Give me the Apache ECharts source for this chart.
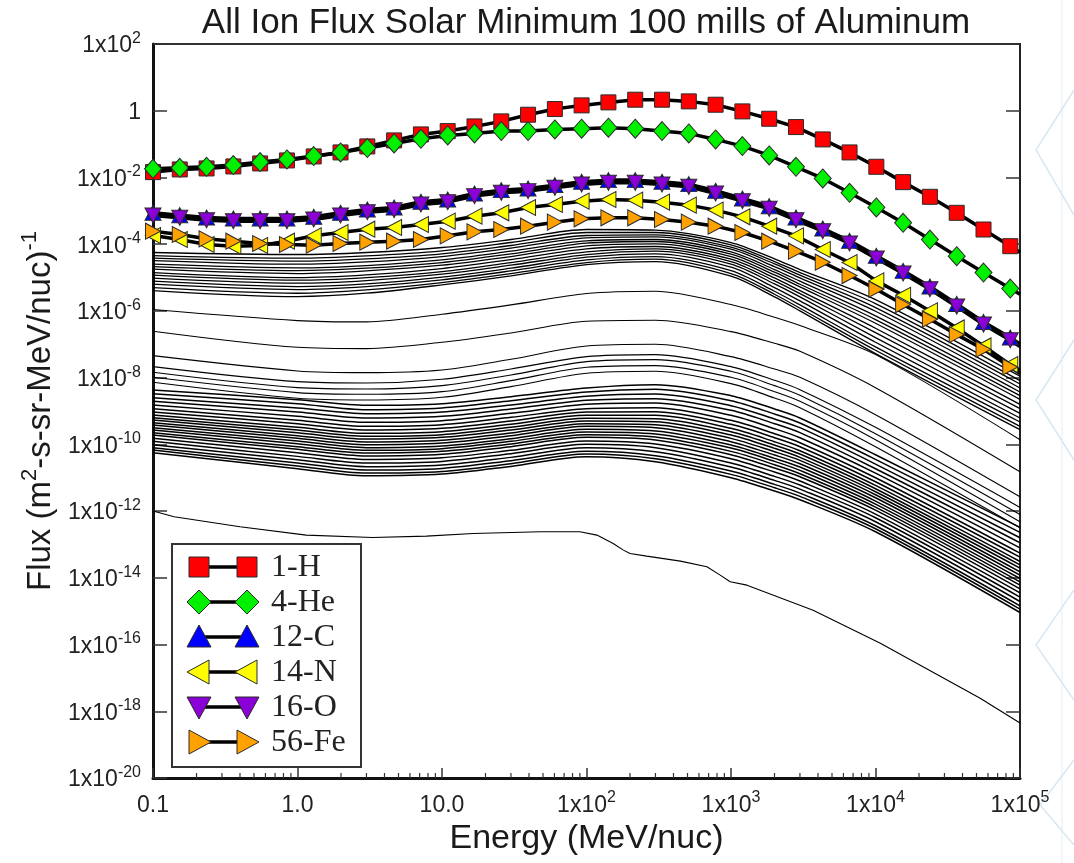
<!DOCTYPE html>
<html>
<head>
<meta charset="utf-8">
<title>All Ion Flux Solar Minimum 100 mills of Aluminum</title>
<script src="https://cdn.jsdelivr.net/npm/echarts@6/dist/echarts.min.js"></script>
<style>
html,body{margin:0;padding:0;background:#fff;}
#chart{width:1074px;height:863px;}
</style>
</head>
<body>
<div id="chart"></div>
<script>
// energy grid (MeV/nuc) of the marked ions, last point = right edge (no marker)
var energies = [0.1, 0.1532, 0.2348, 0.3598, 0.5514, 0.8453, 1.295, 1.985, 3.042, 4.662, 7.145, 10.95, 16.78, 25.72, 39.4, 60.4, 92.5, 141.8, 217.4, 333.2, 510.5, 782.4, 1199, 1838, 2816, 4315, 6613, 10134, 15530, 23800, 36480, 55900, 85660, 100000];

// log10 of flux
var hLog  = [-1.84,-1.76,-1.73,-1.67,-1.58,-1.49,-1.37,-1.25,-1.07,-0.89,-0.71,-0.61,-0.47,-0.32,-0.12,0.05,0.16,0.25,0.33,0.33,0.28,0.18,-0.02,-0.24,-0.49,-0.86,-1.25,-1.68,-2.14,-2.58,-3.06,-3.56,-4.06,-4.24];
var heLog = [-1.74,-1.71,-1.68,-1.63,-1.54,-1.46,-1.36,-1.25,-1.12,-0.98,-0.84,-0.74,-0.68,-0.61,-0.61,-0.56,-0.54,-0.51,-0.54,-0.61,-0.68,-0.86,-1.06,-1.34,-1.68,-2.03,-2.46,-2.9,-3.36,-3.86,-4.36,-4.85,-5.33,-5.5];
var cLog  = [-3.06,-3.13,-3.20,-3.23,-3.23,-3.23,-3.18,-3.06,-2.96,-2.90,-2.73,-2.66,-2.48,-2.38,-2.33,-2.23,-2.13,-2.08,-2.08,-2.13,-2.20,-2.40,-2.63,-2.86,-3.20,-3.53,-3.90,-4.35,-4.80,-5.27,-5.79,-6.33,-6.80,-6.99];
var nLog  = [-3.74,-3.86,-4.01,-4.06,-4.04,-3.91,-3.75,-3.65,-3.55,-3.50,-3.41,-3.31,-3.16,-3.06,-2.90,-2.81,-2.71,-2.66,-2.68,-2.74,-2.83,-2.98,-3.18,-3.46,-3.75,-4.16,-4.55,-5.10,-5.53,-6.00,-6.51,-7.05,-7.61,-7.78];
var oLog  = [-3.14,-3.21,-3.28,-3.31,-3.31,-3.31,-3.26,-3.14,-3.04,-2.98,-2.81,-2.74,-2.56,-2.46,-2.41,-2.31,-2.21,-2.16,-2.16,-2.21,-2.28,-2.48,-2.71,-2.94,-3.28,-3.61,-3.98,-4.43,-4.88,-5.35,-5.87,-6.41,-6.88,-7.07];
var feLog = [-3.61,-3.71,-3.84,-3.91,-3.98,-4.01,-4.03,-3.98,-3.94,-3.91,-3.86,-3.75,-3.63,-3.56,-3.46,-3.34,-3.24,-3.21,-3.21,-3.26,-3.34,-3.46,-3.65,-3.91,-4.21,-4.54,-4.94,-5.35,-5.81,-6.25,-6.71,-7.15,-7.68,-7.88];

// the other (unmarked) ions: log10 flux at a few anchor energies
var otherE = [0.1, 1, 3, 10, 30, 100, 300, 1000, 2000, 3000, 10000, 100000];
var upperIonsLog = [
  [-4.25,-4.31,-4.25,-4.10,-3.86,-3.56,-3.58,-3.95,-4.44,-4.76,-5.66,-7.96],
  [-4.34,-4.42,-4.35,-4.20,-3.95,-3.65,-3.65,-4.02,-4.52,-4.85,-5.78,-8.09],
  [-4.42,-4.51,-4.44,-4.29,-4.04,-3.74,-3.72,-4.09,-4.59,-4.93,-5.90,-8.19],
  [-4.49,-4.60,-4.53,-4.37,-4.12,-3.81,-3.78,-4.15,-4.67,-5.01,-6.01,-8.31],
  [-4.60,-4.71,-4.64,-4.47,-4.21,-3.90,-3.86,-4.23,-4.76,-5.11,-6.15,-8.43],
  [-4.67,-4.79,-4.72,-4.55,-4.29,-3.97,-3.92,-4.30,-4.84,-5.20,-6.26,-8.54],
  [-4.75,-4.88,-4.80,-4.63,-4.37,-4.05,-3.99,-4.37,-4.92,-5.28,-6.37,-8.65],
  [-4.85,-5.00,-4.92,-4.73,-4.46,-4.14,-4.07,-4.45,-5.01,-5.39,-6.52,-8.80],
  [-4.93,-5.08,-5.00,-4.82,-4.55,-4.23,-4.14,-4.52,-5.10,-5.48,-6.65,-8.93],
  [-5.02,-5.17,-5.09,-4.90,-4.63,-4.31,-4.21,-4.60,-5.19,-5.58,-6.80,-9.07],
  [-5.11,-5.27,-5.19,-4.99,-4.72,-4.39,-4.29,-4.69,-5.30,-5.70,-6.94,-9.21],
  [-5.20,-5.36,-5.27,-5.07,-4.80,-4.47,-4.37,-4.79,-5.41,-5.82,-7.08,-9.33],
  [-5.30,-5.47,-5.37,-5.15,-4.88,-4.55,-4.45,-4.88,-5.50,-5.92,-7.18,-9.46],
  [-5.39,-5.57,-5.47,-5.22,-4.95,-4.61,-4.52,-4.96,-5.58,-6.00,-7.28,-9.56]
];
var middleIonsLog = [
  [-5.96,-6.29,-6.33,-6.10,-5.82,-5.48,-5.41,-5.81,-6.19,-6.44,-7.31,-9.86],
  [-6.61,-7.09,-7.13,-6.94,-6.66,-6.31,-6.28,-6.62,-6.97,-7.21,-8.30,-10.82],
  [-7.34,-7.80,-7.85,-7.77,-7.45,-7.05,-7.00,-7.37,-7.74,-7.99,-9.11,-11.57],
  [-7.67,-8.12,-8.16,-8.05,-7.74,-7.37,-7.31,-7.67,-8.08,-8.36,-9.49,-11.89],
  [-7.84,-8.30,-8.34,-8.24,-7.92,-7.52,-7.46,-7.81,-8.24,-8.53,-9.68,-12.10],
  [-7.99,-8.45,-8.50,-8.42,-8.09,-7.69,-7.64,-7.99,-8.42,-8.71,-9.86,-12.32],
  [-8.14,-8.62,-8.67,-8.59,-8.27,-7.87,-7.81,-8.18,-8.61,-8.90,-10.07,-12.50]
];
var lowerIonsLog = [
  [-8.37,-8.66,-8.83,-8.78,-8.57,-8.31,-8.21,-8.54,-8.94,-9.21,-10.31,-12.49],
  [-8.48,-8.78,-8.96,-8.91,-8.69,-8.43,-8.35,-8.69,-9.09,-9.36,-10.45,-12.64],
  [-8.60,-8.91,-9.08,-9.03,-8.82,-8.56,-8.49,-8.84,-9.24,-9.50,-10.59,-12.80],
  [-8.71,-9.03,-9.21,-9.16,-8.94,-8.68,-8.63,-8.98,-9.38,-9.65,-10.73,-12.95],
  [-8.82,-9.16,-9.34,-9.29,-9.07,-8.80,-8.76,-9.13,-9.53,-9.80,-10.86,-13.10],
  [-8.93,-9.28,-9.46,-9.41,-9.19,-8.93,-8.90,-9.28,-9.68,-9.95,-11.00,-13.26],
  [-9.03,-9.38,-9.57,-9.52,-9.30,-9.03,-9.02,-9.40,-9.80,-10.07,-11.12,-13.38],
  [-9.12,-9.49,-9.67,-9.62,-9.40,-9.13,-9.13,-9.52,-9.92,-10.19,-11.23,-13.51],
  [-9.20,-9.57,-9.76,-9.71,-9.49,-9.22,-9.23,-9.62,-10.02,-10.29,-11.33,-13.61],
  [-9.27,-9.65,-9.84,-9.79,-9.57,-9.30,-9.32,-9.72,-10.12,-10.39,-11.42,-13.71],
  [-9.35,-9.74,-9.93,-9.88,-9.66,-9.38,-9.41,-9.82,-10.22,-10.48,-11.51,-13.82],
  [-9.42,-9.82,-10.01,-9.96,-9.74,-9.46,-9.50,-9.92,-10.32,-10.58,-11.60,-13.92],
  [-9.50,-9.90,-10.10,-10.05,-9.83,-9.55,-9.60,-10.02,-10.42,-10.68,-11.70,-14.02],
  [-9.57,-9.98,-10.18,-10.13,-9.91,-9.63,-9.69,-10.11,-10.51,-10.78,-11.79,-14.12],
  [-9.65,-10.07,-10.26,-10.21,-9.99,-9.71,-9.78,-10.21,-10.61,-10.88,-11.88,-14.22],
  [-9.72,-10.15,-10.35,-10.30,-10.07,-9.79,-9.87,-10.31,-10.71,-10.97,-11.97,-14.33],
  [-9.82,-10.25,-10.45,-10.40,-10.18,-9.90,-9.99,-10.43,-10.83,-11.10,-12.09,-14.45],
  [-9.91,-10.36,-10.56,-10.51,-10.28,-10.00,-10.10,-10.56,-10.96,-11.22,-12.20,-14.58],
  [-10.01,-10.46,-10.67,-10.62,-10.39,-10.10,-10.22,-10.68,-11.08,-11.34,-12.32,-14.71],
  [-10.10,-10.56,-10.77,-10.72,-10.49,-10.21,-10.34,-10.80,-11.20,-11.46,-12.44,-14.84],
  [-10.17,-10.65,-10.86,-10.81,-10.58,-10.29,-10.43,-10.90,-11.30,-11.56,-12.53,-14.94],
  [-10.25,-10.73,-10.94,-10.89,-10.66,-10.37,-10.52,-11.00,-11.40,-11.66,-12.62,-15.04]
];

// lowest ion curve, own energy points (it has two small steps)
var lowE   = [0.1, 0.14, 0.4, 1.15, 3.3, 7.8, 16.4, 48, 90, 118, 153, 180, 200, 261, 447, 681, 842, 987, 1290, 3700, 10800, 53000, 100000];
var lowLog = [-12.0,-12.17,-12.47,-12.72,-12.79,-12.75,-12.67,-12.62,-12.62,-12.72,-12.97,-13.17,-13.27,-13.35,-13.50,-13.67,-13.92,-14.12,-14.22,-14.97,-15.96,-17.61,-18.35];

var legendNames = ['1-H', '4-He', '12-C', '14-N', '16-O', '56-Fe'];
var xSmallLabels = ['0.1', '1.0', '10.0'];

var FONT = '"Liberation Sans", Arial, Helvetica, sans-serif';
var SERIF = '"Liberation Serif", "Times New Roman", serif';

function pts(xs, logs) {
  var out = [];
  for (var i = 0; i < logs.length; i++) {
    out.push([xs[i], Math.pow(10, logs[i])]);
  }
  return out;
}

function markedSeries(name, logs, symbol, rotate, size, color) {
  var data = [];
  for (var i = 0; i < logs.length; i++) {
    var item = { value: [energies[i], Math.pow(10, logs[i])] };
    if (i == logs.length - 1) item.symbol = 'none';
    data.push(item);
  }
  return {
    name: name, type: 'line', data: data,
    symbol: symbol, symbolSize: size, symbolRotate: rotate,
    showAllSymbol: true, silent: true, z: 3,
    lineStyle: { color: '#000', width: 3.5 },
    itemStyle: { color: color, borderColor: '#2a2a2a', borderWidth: 1 }
  };
}

function thinLines(list, width) {
  for (var i = 0; i < list.length; i++) {
    series.push({
      type: 'line', data: pts(otherE, list[i]), symbol: 'none', smooth: 0.3,
      silent: true, z: 1, lineStyle: { color: '#000', width: width }
    });
  }
}

function powRich(e) {
  if (e === 0) return '{m|1}';
  return '{m|1x10}{s|' + e + '}';
}

var labelRich = {
  m: { fontSize: 23, fontFamily: FONT, color: '#222', lineHeight: 27, verticalAlign: 'bottom' },
  s: { fontSize: 16, fontFamily: FONT, color: '#222', lineHeight: 16, verticalAlign: 'top' }
};

var series = [];
thinLines(upperIonsLog, 1.3);
thinLines(middleIonsLog, 1.1);
thinLines(lowerIonsLog, 1.5);
series.push({
  type: 'line', data: pts(lowE, lowLog), symbol: 'none', silent: true, z: 1,
  lineStyle: { color: '#000', width: 1.1 }
});

// minor ticks of the energy axis at 2..9 of each decade
var minorTicks = [];
for (var d = -1; d < 5; d++) {
  for (var m = 2; m < 10; m++) minorTicks.push([m * Math.pow(10, d), 1e-20]);
}
series.push({
  type: 'custom', coordinateSystem: 'cartesian2d', data: minorTicks, silent: true, clip: false, z: 5,
  renderItem: function (params, api) {
    var p = api.coord([api.value(0), api.value(1)]);
    return { type: 'line', shape: { x1: p[0], y1: p[1], x2: p[0], y2: p[1] - 5 }, style: { stroke: '#333', lineWidth: 1.2 } };
  }
});

series.push(markedSeries('1-H', hLog, 'rect', 0, 15, '#ff0000'));
series.push(markedSeries('4-He', heLog, 'diamond', 0, [17, 19], '#00f000'));
series.push(markedSeries('12-C', cLog, 'triangle', 0, [16, 15], '#0000ff'));
series.push(markedSeries('14-N', nLog, 'triangle', 90, [16, 15], '#ffff00'));
series.push(markedSeries('16-O', oLog, 'triangle', 180, [16, 15], '#8c00d8'));
series.push(markedSeries('56-Fe', feLog, 'triangle', -90, [16, 15], '#ffa200'));

// legend box drawn by hand (marker - line - marker)
function legendSymbol(kind, cx, cy, color) {
  var st = { fill: color, stroke: '#2a2a2a', lineWidth: 1 };
  if (kind == 'rect') return { type: 'rect', shape: { x: cx - 10, y: cy - 10, width: 20, height: 20 }, style: st };
  var p;
  if (kind == 'diamond') p = [[cx, cy - 12], [cx + 12, cy], [cx, cy + 12], [cx - 12, cy]];
  else if (kind == 'up') p = [[cx, cy - 12], [cx + 12, cy + 10], [cx - 12, cy + 10]];
  else if (kind == 'down') p = [[cx - 12, cy - 10], [cx + 12, cy - 10], [cx, cy + 12]];
  else if (kind == 'left') p = [[cx - 12, cy], [cx + 10, cy - 12], [cx + 10, cy + 12]];
  else p = [[cx + 12, cy], [cx - 10, cy - 12], [cx - 10, cy + 12]];
  return { type: 'polygon', shape: { points: p }, style: st };
}
var legendKinds = ['rect', 'diamond', 'up', 'left', 'down', 'right'];
var legendColors = ['#ff0000', '#00f000', '#0000ff', '#ffff00', '#8c00d8', '#ffa200'];
var legendChildren = [{
  type: 'rect', shape: { x: 172, y: 544, width: 189, height: 223 },
  style: { fill: '#fff', stroke: '#333', lineWidth: 2 }
}];
for (var k = 0; k < legendNames.length; k++) {
  var cy = 567 + k * 35;
  legendChildren.push({ type: 'line', shape: { x1: 199, y1: cy, x2: 247, y2: cy }, style: { stroke: '#000', lineWidth: 3.5 } });
  legendChildren.push(legendSymbol(legendKinds[k], 199, cy, legendColors[k]));
  legendChildren.push(legendSymbol(legendKinds[k], 247, cy, legendColors[k]));
  legendChildren.push({
    type: 'text', x: 271, y: cy + 1,
    style: { text: legendNames[k], fontSize: 32, fontFamily: SERIF, fill: '#222', verticalAlign: 'middle' }
  });
}

var option = {
  animation: false,
  backgroundColor: '#fff',
  grid: { left: 153, right: 54, top: 44, bottom: 85, show: true, borderColor: '#333', borderWidth: 2, backgroundColor: 'transparent' },
  xAxis: {
    type: 'log', min: 0.1, max: 100000, interval: 1,
    axisLine: { show: true, onZero: false, lineStyle: { color: '#111', width: 3 } },
    axisTick: { inside: true, length: 10, lineStyle: { color: '#333', width: 1.5 } },
    splitLine: { show: false },
    axisLabel: {
      margin: 12, rich: labelRich,
      formatter: function (v) {
        var e = Math.round(Math.log10(v));
        if (e <= 1) return '{m|' + xSmallLabels[e + 1] + '}';
        return powRich(e);
      }
    },
    name: 'Energy (MeV/nuc)', nameLocation: 'middle', nameGap: 42,
    nameTextStyle: { fontSize: 34, fontFamily: FONT, color: '#1a1a1a' }
  },
  yAxis: [{
    type: 'log', min: 1e-20, max: 100, interval: 2, position: 'left',
    axisLine: { show: true, onZero: false, lineStyle: { color: '#111', width: 3 } },
    axisTick: { inside: true, length: 14, lineStyle: { color: '#333', width: 1.5 } },
    splitLine: { show: false },
    axisLabel: {
      margin: 12, rich: labelRich,
      formatter: function (v) { return powRich(Math.round(Math.log10(v))); }
    },
    name: '{t|Flux (m}{s|2}{t|-s-sr-MeV/nuc)}{s|-1}', nameLocation: 'middle', nameGap: 95, nameRotate: 90,
    nameTextStyle: {
      rich: {
        t: { fontSize: 33, fontFamily: FONT, color: '#1a1a1a', lineHeight: 38, verticalAlign: 'bottom' },
        s: { fontSize: 22, fontFamily: FONT, color: '#1a1a1a', lineHeight: 22, verticalAlign: 'top' }
      }
    }
  }, {
    type: 'log', min: 1e-20, max: 100, interval: 2, position: 'right',
    axisLine: { show: true, onZero: false, lineStyle: { color: '#222', width: 2 } },
    axisTick: { inside: true, length: 14, lineStyle: { color: '#333', width: 1.5 } },
    axisLabel: { show: false }, splitLine: { show: false }
  }],
  graphic: [
    {
      type: 'text', x: 586, y: 23,
      style: { text: 'All Ion Flux Solar Minimum 100 mills of Aluminum', fontSize: 35, fontFamily: FONT, fill: '#1a1a1a', align: 'center', verticalAlign: 'middle' }
    },
    { type: 'group', children: legendChildren, z: 10 },
    { type: 'line', shape: { x1: 1062, y1: 0, x2: 1062, y2: 863 }, style: { stroke: '#e3edf3', lineWidth: 1 } },
    { type: 'polyline', shape: { points: [[1074, 90], [1036, 150], [1074, 215]] }, style: { stroke: '#d9e7f0', lineWidth: 1.5 } },
    { type: 'polyline', shape: { points: [[1074, 340], [1036, 400], [1074, 460]] }, style: { stroke: '#d9e7f0', lineWidth: 1.5 } },
    { type: 'polyline', shape: { points: [[1074, 590], [1036, 645], [1074, 700]] }, style: { stroke: '#d9e7f0', lineWidth: 1.5 } },
    { type: 'polyline', shape: { points: [[1074, 760], [1040, 805], [1074, 845]] }, style: { stroke: '#d9e7f0', lineWidth: 1.5 } }
  ],
  series: series
};

var chart = echarts.init(document.getElementById('chart'));
chart.setOption(option);
</script>
</body>
</html>
